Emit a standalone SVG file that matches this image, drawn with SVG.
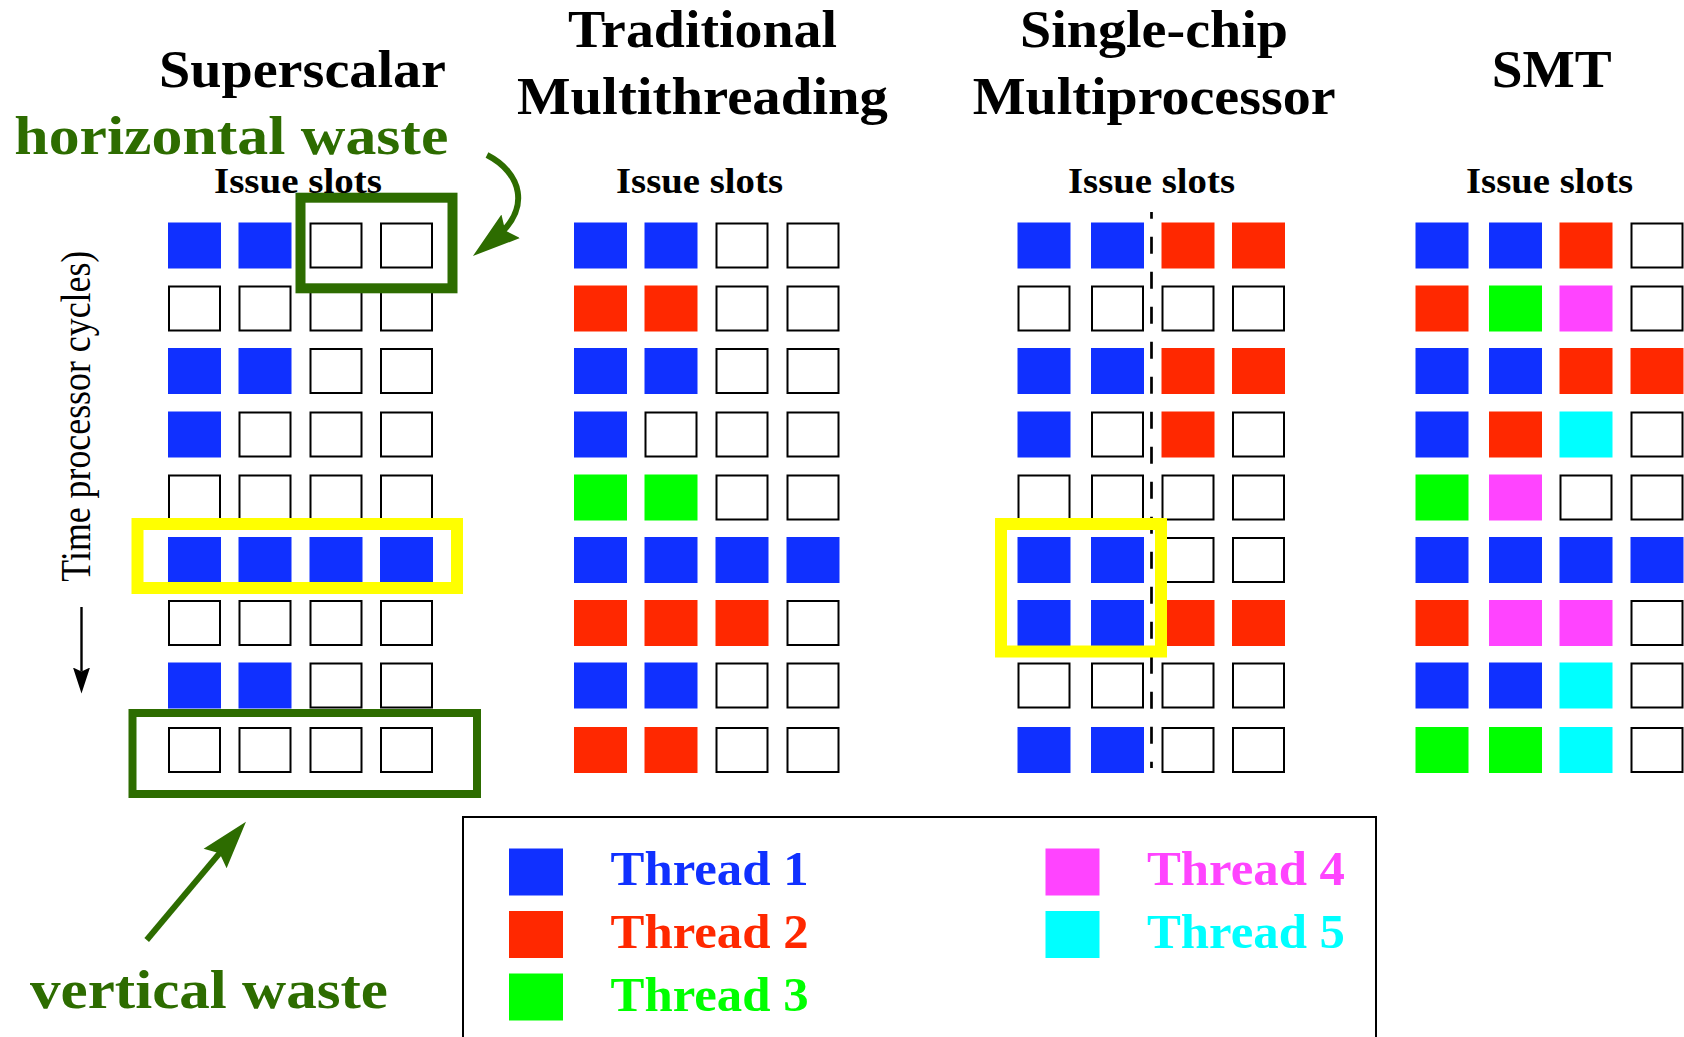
<svg xmlns="http://www.w3.org/2000/svg" xmlns:xlink="http://www.w3.org/1999/xlink" width="1684" height="1037" viewBox="0 0 1684 1037">
  <style>
    .title { font-family: "Liberation Serif", "Times New Roman", serif; font-weight: bold; font-size: 52px; fill: #000; }
    .slots { font-family: "Liberation Serif", "Times New Roman", serif; font-weight: bold; font-size: 35px; fill: #000; }
    .waste { font-family: "Liberation Serif", "Times New Roman", serif; font-weight: bold; font-size: 54px; fill: #2d6c00; }
    .axis { font-family: "Liberation Serif", "Times New Roman", serif; font-size: 42px; fill: #000; }
    .thr { font-family: "Liberation Serif", "Times New Roman", serif; font-weight: bold; font-size: 48px; }
    .e { fill: #fff; stroke: #000; stroke-width: 2; }
    .t1 { fill: #1030ff; } .t2 { fill: #ff2800; } .t3 { fill: #00ff00; } .t4 { fill: #ff44ff; } .t5 { fill: #00ffff; }
    .hl { fill: none; stroke: #ffff00; stroke-width: 12; }
    .wbox { fill: none; stroke: #2d6c00; }
    .warrow { fill: none; stroke: #2d6c00; stroke-width: 6; }
  </style>
  <defs>
    <!-- issue slot cells: empty, and one per thread -->
    <rect id="E" x="1" y="1" width="51" height="44" class="e"/>
    <rect id="B" width="53" height="46" class="t1"/>
    <rect id="R" width="53" height="46" class="t2"/>
    <rect id="G" width="53" height="46" class="t3"/>
    <rect id="M" width="53" height="46" class="t4"/>
    <rect id="C" width="53" height="46" class="t5"/>
    <marker id="greenHead" markerUnits="userSpaceOnUse" markerWidth="50" markerHeight="34" viewBox="0 -17 50 34" refX="23" refY="0" orient="auto">
      <path d="M48,0 L0,-15 L7,0 L0,15 Z" fill="#2d6c00"/>
    </marker>
    <marker id="blackHead" markerUnits="userSpaceOnUse" markerWidth="28" markerHeight="20" viewBox="0 -10 28 20" refX="4" refY="0" orient="auto">
      <path d="M26,0 L0,-8.5 L4,0 L0,8.5 Z" fill="#000"/>
    </marker>
  </defs>
  <rect width="1684" height="1037" fill="#fff"/>

  <!-- Superscalar -->
  <g id="superscalar">
    <text class="title" x="159" y="87" textLength="287" lengthAdjust="spacingAndGlyphs">Superscalar</text>
    <g transform="translate(0,222.5)"><use href="#B" x="168"/><use href="#B" x="238.5"/><use href="#E" x="309.5"/><use href="#E" x="380"/></g>
    <g transform="translate(0,285.5)"><use href="#E" x="168"/><use href="#E" x="238.5"/><use href="#E" x="309.5"/><use href="#E" x="380"/></g>
    <g transform="translate(0,348)"><use href="#B" x="168"/><use href="#B" x="238.5"/><use href="#E" x="309.5"/><use href="#E" x="380"/></g>
    <g transform="translate(0,411.5)"><use href="#B" x="168"/><use href="#E" x="238.5"/><use href="#E" x="309.5"/><use href="#E" x="380"/></g>
    <g transform="translate(0,474.5)"><use href="#E" x="168"/><use href="#E" x="238.5"/><use href="#E" x="309.5"/><use href="#E" x="380"/></g>
    <g transform="translate(0,537)"><use href="#B" x="168"/><use href="#B" x="238.5"/><use href="#B" x="309.5"/><use href="#B" x="380"/></g>
    <g transform="translate(0,600)"><use href="#E" x="168"/><use href="#E" x="238.5"/><use href="#E" x="309.5"/><use href="#E" x="380"/></g>
    <g transform="translate(0,662.5)"><use href="#B" x="168"/><use href="#B" x="238.5"/><use href="#E" x="309.5"/><use href="#E" x="380"/></g>
    <g transform="translate(0,727)"><use href="#E" x="168"/><use href="#E" x="238.5"/><use href="#E" x="309.5"/><use href="#E" x="380"/></g>
    <rect class="hl" x="137.5" y="524" width="319.5" height="64"/>
    <rect class="wbox" stroke-width="10" x="300.5" y="197.7" width="152" height="90.6"/>
    <rect class="wbox" stroke-width="8" x="132.5" y="713" width="344.5" height="81"/>
    <text class="slots" x="214" y="193.3" textLength="168" lengthAdjust="spacingAndGlyphs">Issue slots</text>
  </g>

  <!-- Traditional Multithreading -->
  <g id="traditional-mt">
    <text class="title" x="568" y="46.7" textLength="269" lengthAdjust="spacingAndGlyphs">Traditional</text>
    <text class="title" x="517" y="114.3" textLength="371" lengthAdjust="spacingAndGlyphs">Multithreading</text>
    <text class="slots" x="616" y="193.3" textLength="167" lengthAdjust="spacingAndGlyphs">Issue slots</text>
    <g transform="translate(0,222.5)"><use href="#B" x="574"/><use href="#B" x="644.5"/><use href="#E" x="715.5"/><use href="#E" x="786.5"/></g>
    <g transform="translate(0,285.5)"><use href="#R" x="574"/><use href="#R" x="644.5"/><use href="#E" x="715.5"/><use href="#E" x="786.5"/></g>
    <g transform="translate(0,348)"><use href="#B" x="574"/><use href="#B" x="644.5"/><use href="#E" x="715.5"/><use href="#E" x="786.5"/></g>
    <g transform="translate(0,411.5)"><use href="#B" x="574"/><use href="#E" x="644.5"/><use href="#E" x="715.5"/><use href="#E" x="786.5"/></g>
    <g transform="translate(0,474.5)"><use href="#G" x="574"/><use href="#G" x="644.5"/><use href="#E" x="715.5"/><use href="#E" x="786.5"/></g>
    <g transform="translate(0,537)"><use href="#B" x="574"/><use href="#B" x="644.5"/><use href="#B" x="715.5"/><use href="#B" x="786.5"/></g>
    <g transform="translate(0,600)"><use href="#R" x="574"/><use href="#R" x="644.5"/><use href="#R" x="715.5"/><use href="#E" x="786.5"/></g>
    <g transform="translate(0,662.5)"><use href="#B" x="574"/><use href="#B" x="644.5"/><use href="#E" x="715.5"/><use href="#E" x="786.5"/></g>
    <g transform="translate(0,727)"><use href="#R" x="574"/><use href="#R" x="644.5"/><use href="#E" x="715.5"/><use href="#E" x="786.5"/></g>
  </g>

  <!-- Single-chip Multiprocessor -->
  <g id="single-chip-mp">
    <text class="title" x="1020" y="46.7" textLength="268" lengthAdjust="spacingAndGlyphs">Single-chip</text>
    <text class="title" x="972.7" y="114.3" textLength="363" lengthAdjust="spacingAndGlyphs">Multiprocessor</text>
    <text class="slots" x="1068" y="193.3" textLength="167" lengthAdjust="spacingAndGlyphs">Issue slots</text>
    <g transform="translate(0,222.5)"><use href="#B" x="1017.5"/><use href="#B" x="1091"/><use href="#R" x="1161.5"/><use href="#R" x="1232"/></g>
    <g transform="translate(0,285.5)"><use href="#E" x="1017.5"/><use href="#E" x="1091"/><use href="#E" x="1161.5"/><use href="#E" x="1232"/></g>
    <g transform="translate(0,348)"><use href="#B" x="1017.5"/><use href="#B" x="1091"/><use href="#R" x="1161.5"/><use href="#R" x="1232"/></g>
    <g transform="translate(0,411.5)"><use href="#B" x="1017.5"/><use href="#E" x="1091"/><use href="#R" x="1161.5"/><use href="#E" x="1232"/></g>
    <g transform="translate(0,474.5)"><use href="#E" x="1017.5"/><use href="#E" x="1091"/><use href="#E" x="1161.5"/><use href="#E" x="1232"/></g>
    <g transform="translate(0,537)"><use href="#B" x="1017.5"/><use href="#B" x="1091"/><use href="#E" x="1161.5"/><use href="#E" x="1232"/></g>
    <g transform="translate(0,600)"><use href="#B" x="1017.5"/><use href="#B" x="1091"/><use href="#R" x="1161.5"/><use href="#R" x="1232"/></g>
    <g transform="translate(0,662.5)"><use href="#E" x="1017.5"/><use href="#E" x="1091"/><use href="#E" x="1161.5"/><use href="#E" x="1232"/></g>
    <g transform="translate(0,727)"><use href="#B" x="1017.5"/><use href="#B" x="1091"/><use href="#E" x="1161.5"/><use href="#E" x="1232"/></g>
    <!-- divider between the two processors -->
    <line x1="1151.5" y1="212" x2="1151.5" y2="768" stroke="#000" stroke-width="2.7" stroke-dasharray="17 18" stroke-dashoffset="10.3"/>
    <rect class="hl" x="1001" y="524" width="160" height="127.5"/>
  </g>

  <!-- SMT -->
  <g id="smt">
    <text class="title" x="1491.7" y="87.3" textLength="120" lengthAdjust="spacingAndGlyphs">SMT</text>
    <text class="slots" x="1466" y="193.3" textLength="167" lengthAdjust="spacingAndGlyphs">Issue slots</text>
    <g transform="translate(0,222.5)"><use href="#B" x="1415.5"/><use href="#B" x="1489"/><use href="#R" x="1559.5"/><use href="#E" x="1630.5"/></g>
    <g transform="translate(0,285.5)"><use href="#R" x="1415.5"/><use href="#G" x="1489"/><use href="#M" x="1559.5"/><use href="#E" x="1630.5"/></g>
    <g transform="translate(0,348)"><use href="#B" x="1415.5"/><use href="#B" x="1489"/><use href="#R" x="1559.5"/><use href="#R" x="1630.5"/></g>
    <g transform="translate(0,411.5)"><use href="#B" x="1415.5"/><use href="#R" x="1489"/><use href="#C" x="1559.5"/><use href="#E" x="1630.5"/></g>
    <g transform="translate(0,474.5)"><use href="#G" x="1415.5"/><use href="#M" x="1489"/><use href="#E" x="1559.5"/><use href="#E" x="1630.5"/></g>
    <g transform="translate(0,537)"><use href="#B" x="1415.5"/><use href="#B" x="1489"/><use href="#B" x="1559.5"/><use href="#B" x="1630.5"/></g>
    <g transform="translate(0,600)"><use href="#R" x="1415.5"/><use href="#M" x="1489"/><use href="#M" x="1559.5"/><use href="#E" x="1630.5"/></g>
    <g transform="translate(0,662.5)"><use href="#B" x="1415.5"/><use href="#B" x="1489"/><use href="#C" x="1559.5"/><use href="#E" x="1630.5"/></g>
    <g transform="translate(0,727)"><use href="#G" x="1415.5"/><use href="#G" x="1489"/><use href="#C" x="1559.5"/><use href="#E" x="1630.5"/></g>
  </g>

  <!-- Annotations -->
  <g id="labels">
    <text class="waste" x="14.3" y="154" textLength="434" lengthAdjust="spacingAndGlyphs">horizontal waste</text>
    <text class="waste" x="30" y="1007.7" textLength="358" lengthAdjust="spacingAndGlyphs">vertical waste</text>
    <text class="axis" transform="translate(90,581.7) rotate(-90)" textLength="331" lengthAdjust="spacingAndGlyphs">Time processor cycles)</text>
  </g>

  <!-- Arrows -->
  <g id="connectors">
    <path class="warrow" d="M487,155 C520,172 534,208 492.6,240.5" marker-end="url(#greenHead)"/>
    <path class="warrow" d="M146.7,940 L229.9,840.9" marker-end="url(#greenHead)"/>
    <path d="M81.5,607 L81.5,671.5" stroke="#000" stroke-width="2.4" fill="none" marker-end="url(#blackHead)"/>
  </g>

  <!-- Legend -->
  <g id="legend">
    <rect x="463" y="817" width="913" height="240" fill="none" stroke="#000" stroke-width="2"/>
    <rect x="509" y="848.5" width="54" height="47" class="t1"/>
    <rect x="509" y="911" width="54" height="47" class="t2"/>
    <rect x="509" y="973.5" width="54" height="47" class="t3"/>
    <rect x="1045.5" y="848.5" width="54" height="47" class="t4"/>
    <rect x="1045.5" y="911" width="54" height="47" class="t5"/>
    <text class="thr t1" x="610.6" y="885" textLength="198" lengthAdjust="spacingAndGlyphs">Thread 1</text>
    <text class="thr t2" x="610.6" y="948.3" textLength="198" lengthAdjust="spacingAndGlyphs">Thread 2</text>
    <text class="thr t3" x="610.6" y="1010.7" textLength="198" lengthAdjust="spacingAndGlyphs">Thread 3</text>
    <text class="thr t4" x="1147" y="885" textLength="198" lengthAdjust="spacingAndGlyphs">Thread 4</text>
    <text class="thr t5" x="1147" y="948.3" textLength="198" lengthAdjust="spacingAndGlyphs">Thread 5</text>
  </g>
</svg>
